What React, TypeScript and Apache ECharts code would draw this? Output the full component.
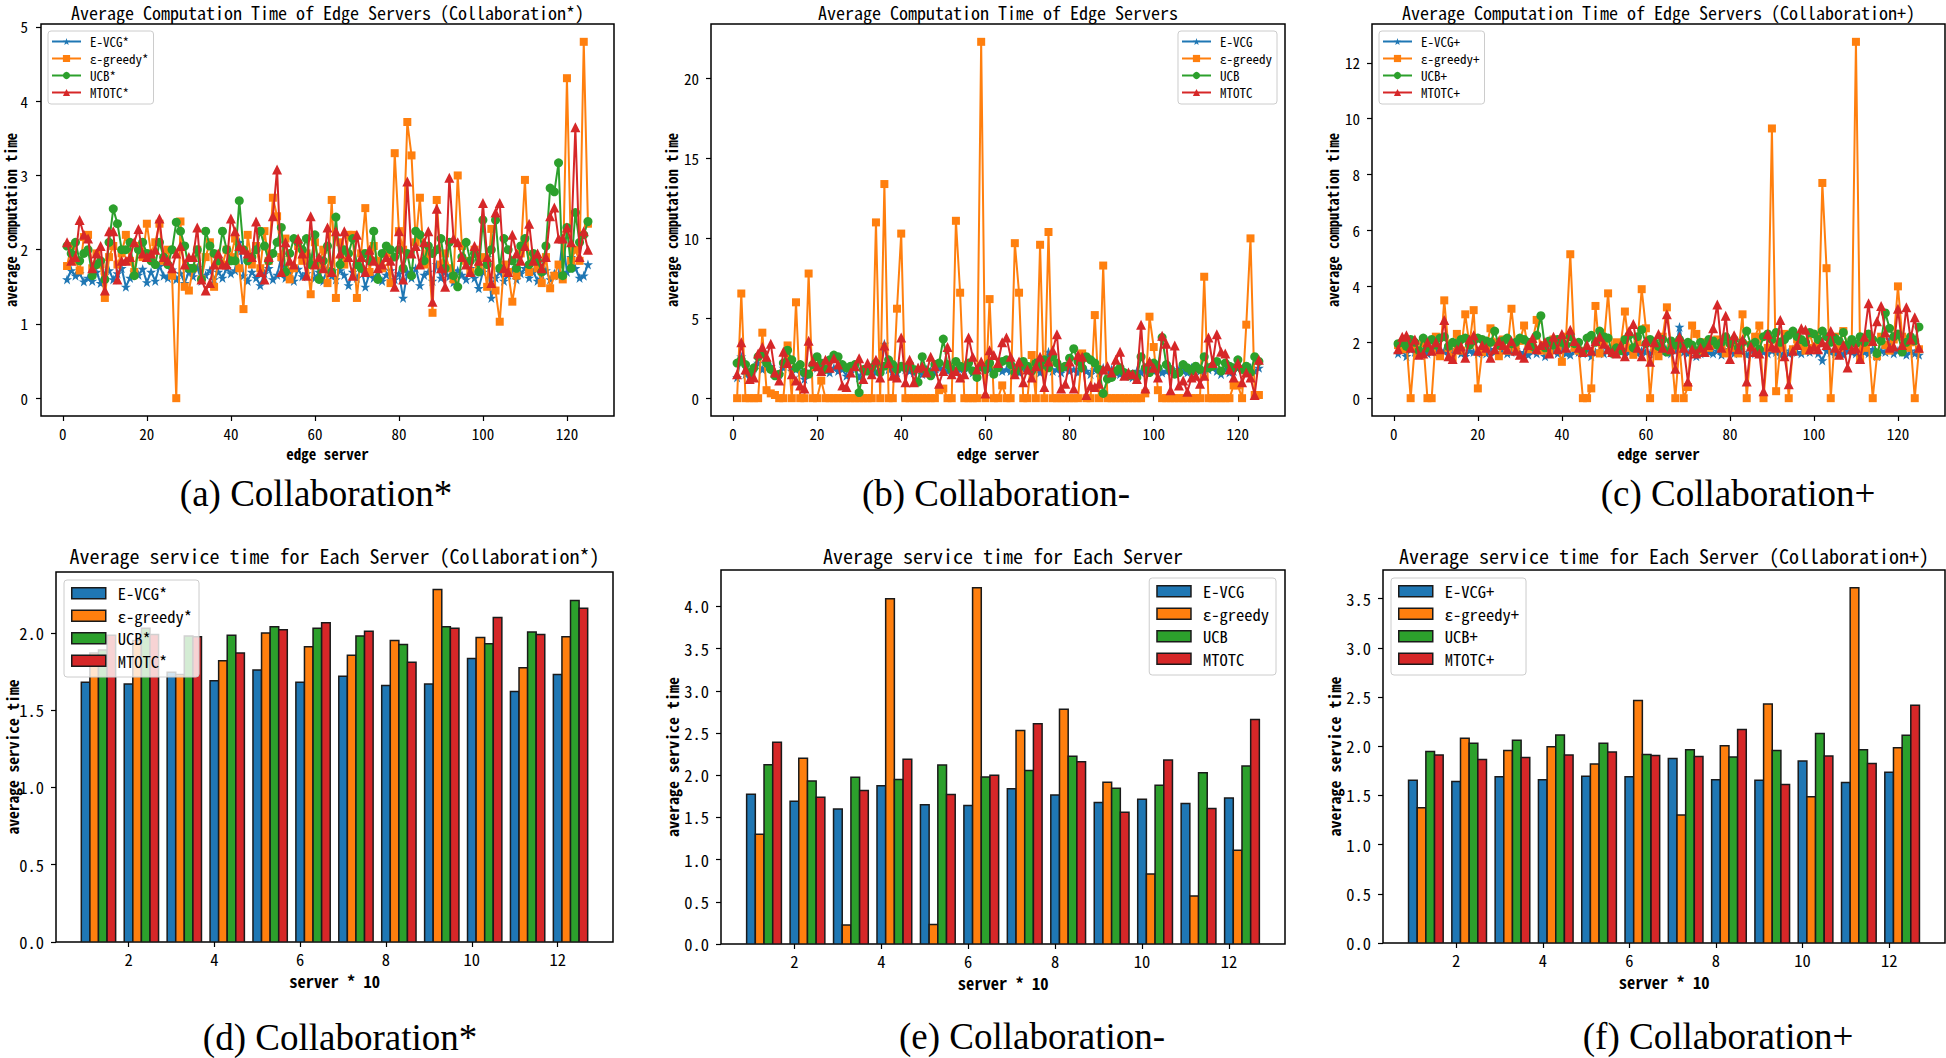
import React, { useEffect, useRef } from "react";
import * as echarts from "echarts";

// ---------- DATA ----------
const COLORS = ["#1f77b4", "#ff7f0e", "#2ca02c", "#d62728"];

const X_TICKS_LINE = [0, 20, 40, 60, 80, 100, 120];
const X_TICKS_BAR = [2, 4, 6, 8, 10, 12];
const BAR_GROUPS = [1, 2, 3, 4, 5, 6, 7, 8, 9, 10, 11, 12];

// (a) Collaboration*  (edge servers 1..125, ten per row)
const A_EVCG = [
  1.60,1.72,1.65,1.68,1.57,1.62,1.58,1.70,1.55,1.66,
  1.72,1.60,1.68,1.75,1.50,1.62,1.70,1.66,1.74,1.56,
  1.70,1.58,1.78,1.65,1.62,1.73,1.60,1.68,1.55,1.70,
  1.64,1.76,1.58,1.66,1.72,1.60,1.70,1.62,1.75,1.68,
  1.72,2.10,1.65,1.58,1.70,1.62,1.52,1.68,1.75,1.60,
  1.66,1.90,1.62,1.70,1.58,1.74,1.64,1.68,1.90,1.62,
  1.70,1.58,1.75,1.65,1.60,1.72,1.66,1.52,1.70,1.62,
  1.75,1.50,1.68,1.62,1.70,1.58,1.66,1.72,1.60,1.68,
  1.35,1.70,1.62,1.75,1.52,1.66,1.70,1.58,1.80,1.62,
  1.70,1.64,1.56,1.72,1.66,1.60,1.75,1.62,1.48,1.70,
  1.90,1.35,1.62,1.70,1.58,1.66,1.72,1.60,1.68,1.75,
  1.62,1.70,1.58,1.66,1.72,1.60,1.68,1.65,2.15,1.70,
  1.90,1.75,1.62,1.65,1.80,
];
const A_GREEDY = [
  1.78,2.05,1.85,1.72,2.17,2.20,1.75,1.95,1.80,1.35,
  1.90,2.05,1.80,1.95,2.20,1.85,1.70,2.05,1.90,2.35,
  1.95,2.10,2.35,1.85,2.00,1.65,0.00,2.38,1.50,1.45,
  1.75,2.00,1.60,1.90,2.10,1.50,1.85,1.80,2.00,1.90,
  2.15,1.75,1.20,2.20,1.80,2.05,1.75,2.25,1.85,2.70,
  2.45,1.90,2.15,1.60,1.75,2.05,1.85,1.95,1.40,2.10,
  1.80,2.00,1.55,2.67,1.35,2.10,1.80,2.20,2.20,1.35,
  1.95,2.56,1.70,2.05,1.85,1.75,1.95,1.55,3.30,2.25,
  2.00,3.72,3.27,2.10,2.70,1.80,1.95,1.15,2.67,1.80,
  1.95,1.75,1.60,3.00,2.05,1.85,1.70,2.00,1.75,1.90,
  1.50,2.28,1.45,1.03,1.80,1.70,1.30,1.65,1.95,2.94,
  1.70,1.85,1.75,1.55,1.90,1.48,1.65,1.80,1.60,4.31,
  1.85,2.00,1.85,4.80,2.35,
];
const A_UCB = [
  2.05,1.95,2.10,1.85,1.95,2.00,1.65,1.80,1.85,1.60,
  2.10,2.55,2.35,2.00,2.00,2.10,1.65,2.00,2.10,1.95,
  1.85,1.80,2.10,1.90,1.80,2.00,2.37,2.25,2.05,1.75,
  1.75,2.00,1.60,2.25,2.05,1.95,1.85,2.25,2.00,1.85,
  1.85,2.66,2.00,1.85,1.90,2.00,2.25,2.05,1.85,1.95,
  2.10,2.30,1.70,1.95,2.15,2.10,2.00,2.15,1.80,2.20,
  1.60,1.85,2.05,1.70,2.44,1.80,2.00,1.95,2.15,1.80,
  1.75,1.95,1.85,2.25,1.60,1.95,2.05,2.00,1.90,2.00,
  1.75,1.95,1.65,2.25,2.20,1.85,2.05,1.95,2.00,2.15,
  1.75,2.10,1.65,1.50,1.90,2.10,1.85,1.95,1.70,2.40,
  1.80,2.00,2.40,1.75,2.15,2.00,1.85,1.75,2.05,2.15,
  1.80,1.95,1.85,1.70,2.05,2.83,2.78,3.17,1.65,2.30,
  1.75,2.50,2.10,2.20,2.38,
];
const A_MTOTC = [
  2.10,1.85,1.90,2.40,2.20,2.15,1.75,1.95,2.05,1.45,
  2.25,2.25,1.60,1.85,1.85,1.90,2.10,2.28,1.95,1.90,
  1.95,2.00,2.42,1.90,1.85,1.75,1.95,2.05,1.80,1.90,
  1.90,2.30,1.60,1.45,1.55,1.80,1.95,1.80,1.80,2.42,
  2.25,2.05,2.00,1.95,1.90,2.38,1.70,1.60,1.90,2.45,
  3.08,1.70,2.10,1.85,1.80,2.15,1.95,1.65,2.45,1.80,
  1.90,1.75,2.30,1.70,2.25,1.95,2.25,1.90,1.65,2.20,
  1.90,1.70,2.00,1.85,1.75,1.80,1.90,1.85,1.50,2.25,
  1.60,2.92,1.95,2.05,1.80,2.10,2.25,1.30,2.55,1.75,
  1.50,2.97,2.15,2.10,1.90,1.80,1.70,2.05,1.85,2.63,
  1.90,1.55,2.50,2.63,1.75,1.70,2.20,1.95,1.85,2.05,
  2.35,1.85,1.95,1.75,1.90,2.45,2.57,2.15,2.15,2.30,
  2.10,3.65,1.90,2.25,2.00,
];

// (b) Collaboration-
const B_EVCG = [
  1.3,2.6,1.5,1.4,1.9,2.2,1.8,1.9,2.0,1.6,
  1.5,1.9,2.1,1.7,1.8,1.6,1.2,1.5,2.0,1.9,
  1.7,1.8,1.6,1.9,1.7,1.8,1.4,1.6,1.9,1.3,
  1.8,1.7,1.9,1.6,2.0,3.4,1.8,1.7,1.6,1.9,
  1.8,1.7,1.6,1.9,1.5,1.8,1.7,1.6,1.9,1.8,
  1.7,1.9,1.6,1.8,1.7,1.9,1.6,1.8,1.9,1.7,
  1.8,1.6,1.9,1.7,1.8,1.7,1.9,1.6,1.8,1.7,
  1.8,1.9,1.6,1.8,2.9,1.7,1.8,1.6,1.9,1.7,
  1.8,1.6,1.9,1.7,1.5,1.8,1.6,1.9,1.7,1.8,
  1.6,1.5,1.4,1.6,1.3,1.7,1.6,1.8,1.9,1.7,
  1.8,1.6,1.7,1.9,1.6,1.8,1.7,1.6,1.9,1.8,
  1.7,1.6,1.8,1.9,1.7,1.5,1.8,1.6,1.7,1.9,
  1.8,1.7,1.9,1.7,1.9,
];
const B_GREEDY = [
  0,6.55,0,0,0,0,4.1,0.5,0.3,0.2,
  0,0,3.3,0,6.0,0,0,7.8,0,0,
  1.1,0,0,0,0,0,0,0,0,0,
  0,0,0,11.0,0,13.4,0,0,5.6,10.3,
  0,0,0,0,0,0,0,0,0.5,0.6,
  0,0,11.1,6.6,0,0,0,0,22.3,0,
  6.2,0,0,0.8,0,0,9.7,6.6,0,0,
  2.7,0,9.6,0,10.4,0,0,0,0,0,
  0,0,2.8,0,0,5.2,0,8.3,0,0,
  0,0,0,0,0,0,0,0.3,5.1,3.2,
  0.5,0,0,0,0,0,0,0,0,0,
  0,7.6,0,0,0,0,0,0,0.8,0.8,
  0,4.6,10.0,0.2,0.2,
];
const B_UCB = [
  2.2,2.4,2.1,1.6,1.9,2.6,2.8,2.2,1.8,1.4,
  1.5,2.2,3.0,2.4,1.9,2.1,1.6,1.5,2.1,2.6,
  2.2,1.8,2.4,2.7,2.6,2.1,1.9,2.0,2.1,0.35,
  1.8,1.7,1.9,2.2,1.6,2.0,2.4,2.1,1.8,2.0,
  1.9,2.1,1.8,1.0,2.6,1.7,1.4,2.1,2.2,3.7,
  2.1,1.8,2.3,2.0,1.9,2.2,1.7,1.3,2.0,1.8,
  2.2,1.5,1.9,2.3,2.4,2.1,1.6,1.9,2.3,2.0,
  1.7,2.2,2.0,2.4,1.9,2.6,2.2,1.9,2.0,2.5,
  3.1,2.3,1.9,2.6,2.4,2.2,1.8,0.3,1.2,1.3,
  1.7,1.9,1.6,1.4,1.5,1.3,2.6,1.9,1.6,2.2,
  1.9,3.8,2.1,1.8,1.5,1.6,2.1,1.9,1.7,2.0,
  1.8,2.6,1.9,2.0,2.3,1.7,2.2,2.0,1.9,2.4,
  1.8,2.0,1.6,2.6,2.3,
];
const B_MTOTC = [
  1.5,3.5,1.8,1.2,1.3,2.8,3.2,2.6,3.4,1.6,
  1.1,2.9,2.2,1.5,1.1,0.8,0.6,3.6,2.3,2.0,
  1.7,2.4,1.9,2.5,2.1,0.8,0.7,1.6,2.0,2.5,
  1.2,2.2,1.5,2.4,1.3,3.3,2.2,1.4,1.3,3.8,
  1.0,2.4,1.0,1.9,2.0,1.6,2.6,2.0,0.9,1.7,
  3.2,1.5,1.7,1.3,1.5,3.8,2.6,1.8,2.3,0.3,
  3.0,2.7,2.2,3.5,3.8,2.6,1.5,2.3,1.0,1.8,
  1.3,2.0,2.6,0.7,2.3,3.0,4.0,0.6,0.9,2.3,
  0.6,2.7,2.6,0.2,0.8,0.7,0.9,1.8,2.0,1.6,
  2.4,2.9,1.4,1.6,1.5,1.2,4.6,0.6,2.3,1.9,
  1.3,3.9,3.4,0.5,3.3,0.8,1.1,0.4,1.3,1.4,
  0.9,1.4,3.8,2.2,4.0,2.9,2.8,1.8,1.3,2.2,
  1.0,1.6,1.3,0.2,2.4,
];

// (c) Collaboration+
const C_EVCG = [
  1.60,1.70,1.50,1.75,1.65,1.55,1.70,1.60,1.65,1.75,
  1.60,1.70,1.55,1.65,1.75,1.60,1.50,1.70,1.65,1.60,
  1.70,1.60,1.75,1.65,1.55,1.70,1.60,1.65,1.75,1.60,
  1.65,1.55,1.70,1.60,1.75,1.50,1.65,1.70,1.60,1.75,
  1.60,1.55,1.70,1.65,1.60,1.75,1.50,1.65,1.70,1.60,
  1.75,1.65,1.60,1.70,1.55,1.65,1.75,1.60,1.70,1.65,
  1.60,1.70,1.55,1.65,1.75,1.60,1.70,2.55,1.65,1.60,
  1.70,1.50,1.60,1.75,1.65,1.60,1.70,1.55,1.65,1.75,
  1.60,1.70,1.65,1.55,1.70,1.60,1.75,1.65,1.60,1.70,
  1.65,1.55,1.70,1.60,1.75,1.65,1.60,1.70,1.65,1.75,
  1.60,1.35,1.70,1.65,1.60,1.75,1.55,1.70,1.65,1.60,
  1.70,1.65,1.60,1.75,1.50,1.70,1.65,2.10,1.60,1.70,
  1.65,1.55,1.70,1.60,1.55,
];
const C_GREEDY = [
  1.90,1.75,2.00,0.00,1.85,1.60,2.00,0.00,0.00,2.20,
  1.50,3.50,1.80,1.45,2.30,1.70,3.00,1.90,3.15,0.35,
  1.65,1.80,2.50,2.00,1.50,2.10,1.70,3.20,1.80,2.05,
  2.60,1.75,2.00,2.80,1.70,1.90,1.60,2.10,1.85,1.30,
  2.20,5.15,1.80,1.70,0.00,0.00,0.35,3.30,1.60,2.00,
  3.75,1.70,2.00,1.90,3.10,1.80,1.55,2.00,3.90,2.50,
  0.00,1.80,1.50,2.20,3.25,1.80,0.00,1.90,0.00,0.40,
  2.60,2.30,1.70,2.00,1.80,1.90,2.10,1.80,1.60,2.00,
  1.80,1.60,3.00,0.00,1.90,2.20,2.60,0.00,1.80,9.65,
  0.25,1.80,2.30,0.00,1.75,2.10,1.90,1.70,2.30,1.80,
  2.00,7.70,4.65,0.00,2.20,1.80,2.40,1.90,2.00,12.75,
  1.40,1.80,2.00,0.00,1.50,2.20,1.90,1.70,2.10,4.00,
  2.20,1.80,2.00,0.00,1.75,
];
const C_UCB = [
  1.95,2.00,1.85,2.10,2.00,1.70,2.15,1.80,2.10,1.90,
  2.15,2.20,1.85,2.00,1.95,2.10,2.15,1.90,2.05,2.15,
  2.10,2.05,2.00,2.40,1.90,2.05,2.15,1.95,2.00,2.15,
  2.10,2.00,1.85,2.25,2.95,1.80,2.05,1.90,2.10,2.00,
  1.90,2.20,1.95,2.00,1.65,2.15,2.25,2.00,2.40,2.20,
  2.15,1.60,1.80,1.70,2.10,2.25,1.80,2.20,2.45,1.95,
  2.10,2.00,1.85,2.10,1.65,2.05,1.90,2.10,1.85,2.00,
  1.90,1.70,2.00,1.85,2.10,2.05,1.90,2.00,2.20,1.95,
  2.10,1.80,2.00,2.40,1.90,2.00,1.75,2.20,2.30,2.10,
  2.35,2.00,2.10,2.25,2.40,2.20,2.10,2.00,2.35,2.30,
  2.10,2.40,2.20,2.00,2.15,2.05,2.35,1.90,2.10,1.95,
  2.20,2.00,2.30,2.10,1.60,2.05,3.05,2.50,2.20,2.30,
  1.65,2.00,2.20,2.05,2.55,
];
const C_MTOTC = [
  1.75,2.20,2.25,1.80,2.10,1.55,1.60,2.00,1.70,2.00,
  1.75,2.80,1.50,1.40,1.75,1.85,1.45,2.10,2.25,1.70,
  1.90,1.80,1.45,1.75,2.05,1.90,1.75,2.05,1.70,1.55,
  1.45,1.90,2.15,1.75,1.90,2.00,1.60,2.20,1.75,2.30,
  1.80,2.45,2.05,1.80,1.65,1.90,1.70,2.05,2.20,1.95,
  1.75,1.65,1.60,1.90,1.50,2.40,2.65,1.80,1.50,2.05,
  1.30,2.00,2.30,1.80,3.00,1.75,1.05,2.20,1.80,0.60,
  1.75,1.60,1.80,1.65,1.90,2.50,3.35,1.80,2.95,1.40,
  2.25,1.75,2.10,0.60,1.85,1.65,1.60,0.25,2.30,1.85,
  1.80,2.80,1.50,0.50,1.70,1.90,2.50,2.45,1.75,1.85,
  1.75,2.00,1.90,2.40,1.80,1.55,1.90,1.10,1.75,1.80,
  1.40,2.20,3.40,2.05,2.75,3.30,2.35,1.80,1.85,3.20,
  1.90,3.25,2.10,2.90,1.80,
];

// (d) Collaboration* bars
const D_EVCG = [1.68, 1.67, 1.745, 1.69, 1.76, 1.68, 1.72, 1.66, 1.67, 1.835, 1.62, 1.73];
const D_GREEDY = [1.87, 1.95, 1.73, 1.82, 2.0, 1.91, 1.855, 1.95, 2.28, 1.97, 1.775, 1.975];
const D_UCB = [1.89, 2.03, 1.98, 1.985, 2.04, 2.03, 1.98, 1.925, 2.04, 1.93, 2.005, 2.21];
const D_MTOTC = [1.985, 1.99, 1.975, 1.87, 2.02, 2.065, 2.01, 1.81, 2.03, 2.1, 1.99, 2.16];

// (e) Collaboration- bars
const E_EVCG = [1.775, 1.69, 1.6, 1.875, 1.65, 1.64, 1.84, 1.765, 1.675, 1.715, 1.665, 1.73];
const E_GREEDY = [1.3, 2.2, 0.225, 4.09, 0.23, 4.22, 2.53, 2.78, 1.915, 0.83, 0.57, 1.11];
const E_UCB = [2.125, 1.93, 1.975, 1.95, 2.12, 1.98, 2.055, 2.225, 1.845, 1.88, 2.03, 2.11];
const E_MTOTC = [2.39, 1.74, 1.82, 2.19, 1.77, 2.0, 2.61, 2.16, 1.56, 2.18, 1.605, 2.66];

// (f) Collaboration+ bars
const F_EVCG = [1.655, 1.64, 1.69, 1.66, 1.695, 1.69, 1.875, 1.66, 1.655, 1.85, 1.63, 1.735];
const F_GREEDY = [1.375, 2.08, 1.955, 1.995, 1.82, 2.465, 1.3, 2.005, 2.43, 1.485, 3.61, 1.985];
const F_UCB = [1.945, 2.03, 2.06, 2.115, 2.03, 1.915, 1.965, 1.89, 1.955, 2.13, 1.965, 2.11];
const F_MTOTC = [1.91, 1.865, 1.885, 1.91, 1.94, 1.905, 1.895, 2.17, 1.61, 1.9, 1.825, 2.415];

// ---------- STYLE ----------
const MONO = '"Noto Sans Mono CJK SC", "Noto Sans CJK SC", "DejaVu Sans Mono", monospace';
const SERIF = '"Liberation Serif", "DejaVu Serif", serif';
const STAR =
  "path://M50,0 L61.8,35.4 L99,35.4 L69,57.3 L80.4,92.7 L50,70.8 L19.6,92.7 L31,57.3 L1,35.4 L38.2,35.4 Z";
const SYMBOLS = [STAR, "rect", "circle", "triangle"];
const SYMBOL_SIZES = [10, 8, 9, 10];

type Box = { left: number; top: number; width: number; height: number };

function makeGrid(b: Box) {
  return {
    left: b.left,
    top: b.top,
    width: b.width,
    height: b.height,
    show: true,
    borderColor: "#000",
    borderWidth: 1.5,
    backgroundColor: "transparent",
    containLabel: false,
    outerBoundsMode: "none",
  };
}

function makeXAxis(gi: number, min: number, max: number, ticks: number[], name: string, fs: number, margin: number, nameGap: number) {
  return {
    type: "value",
    gridIndex: gi,
    min,
    max,
    axisLine: { show: false, onZero: false },
    axisTick: { show: true, length: 5, lineStyle: { color: "#000", width: 1.2 }, customValues: ticks },
    axisLabel: { customValues: ticks, formatter: (v: number) => String(v), fontSize: fs, fontFamily: MONO, color: "#000", margin },
    splitLine: { show: false },
    name,
    nameLocation: "middle",
    nameGap,
    nameMoveOverlap: false,
    nameTextStyle: { fontSize: fs, fontFamily: MONO, color: "#000", fontWeight: "bold" },
  };
}

function makeYAxis(gi: number, min: number, max: number, ticks: number[], fmt: (v: number) => string, name: string, fs: number, nfs: number, margin: number, nameGap: number) {
  return {
    type: "value",
    gridIndex: gi,
    min,
    max,
    axisLine: { show: false, onZero: false },
    axisTick: { show: true, length: 5, lineStyle: { color: "#000", width: 1.2 }, customValues: ticks },
    axisLabel: { customValues: ticks, formatter: fmt, fontSize: fs, fontFamily: MONO, color: "#000", margin },
    splitLine: { show: false },
    name,
    nameLocation: "middle",
    nameRotate: 90,
    nameGap,
    nameMoveOverlap: false,
    nameTextStyle: { fontSize: nfs, fontFamily: MONO, color: "#000", fontWeight: "bold" },
  };
}

function lineSeries(gi: number, names: string[], arrs: number[][]) {
  return arrs.map((arr, k) => ({
    type: "line",
    name: names[k],
    xAxisIndex: gi,
    yAxisIndex: gi,
    data: arr.map((v, i) => [i + 1, v]),
    symbol: SYMBOLS[k],
    symbolSize: SYMBOL_SIZES[k],
    showSymbol: true,
    lineStyle: { width: 2, color: COLORS[k] },
    itemStyle: { color: COLORS[k] },
    emphasis: { disabled: true },
    clip: true,
    z: 2 + k,
  }));
}

function barSeries(gi: number, names: string[], arrs: number[][]) {
  return arrs.map((arr, k) => ({
    type: "custom",
    name: names[k] + "#bar",
    xAxisIndex: gi,
    yAxisIndex: gi,
    data: arr.map((v, i) => [BAR_GROUPS[i] + 0.2 * k, v]),
    encode: { x: 0, y: 1 },
    itemStyle: { color: COLORS[k], borderColor: "#000", borderWidth: 1.5 },
    clip: true,
    renderItem: (_p: any, api: any) => {
      const x = api.value(0);
      const y = api.value(1);
      const tl = api.coord([x - 0.1, y]);
      const br = api.coord([x + 0.1, 0]);
      return {
        type: "rect",
        shape: { x: tl[0], y: tl[1], width: br[0] - tl[0], height: br[1] - tl[1] },
        style: { fill: COLORS[k], stroke: "#1a1a1a", lineWidth: 1.5 },
      };
    },
  }));
}

function lineLegend(names: string[], pos: any) {
  return {
    ...pos,
    orient: "vertical",
    data: names.map((n) => ({ name: n })),
    itemWidth: 29,
    itemHeight: 9,
    itemGap: 4,
    padding: [4, 5, 5, 3],
    borderColor: "#cccccc",
    borderWidth: 1,
    borderRadius: 3,
    backgroundColor: "rgba(255,255,255,0.8)",
    selectedMode: false,
    textStyle: { fontSize: 13, lineHeight: 13, fontFamily: MONO, color: "#000", padding: [0, 0, 0, 4] },
  };
}

function barLegend(names: string[], pos: any) {
  return {
    ...pos,
    orient: "vertical",
    data: names.map((n, k) => ({
      name: n + "#bar",
      icon: "rect",
      itemStyle: { color: COLORS[k], borderColor: "#1a1a1a", borderWidth: 1.5 },
    })),
    formatter: (n: string) => n.replace("#bar", ""),
    itemWidth: 34,
    itemHeight: 11,
    itemGap: 6,
    padding: [5, 7, 8, 7],
    borderColor: "#cccccc",
    borderWidth: 1,
    borderRadius: 3,
    backgroundColor: "rgba(255,255,255,0.8)",
    selectedMode: false,
    textStyle: { fontSize: 16.5, lineHeight: 16, fontFamily: MONO, color: "#000", padding: [0, 0, 0, 7] },
  };
}

const NAMES_STAR = ["E-VCG*", "ε-greedy*", "UCB*", "MTOTC*"];
const NAMES_MINUS = ["E-VCG", "ε-greedy", "UCB", "MTOTC"];
const NAMES_PLUS = ["E-VCG+", "ε-greedy+", "UCB+", "MTOTC+"];

const GRIDS: Box[] = [
  { left: 41, top: 24, width: 573, height: 392 },
  { left: 711, top: 24, width: 574, height: 392 },
  { left: 1372, top: 24, width: 573, height: 392 },
  { left: 56, top: 572, width: 557, height: 370 },
  { left: 721, top: 570, width: 564, height: 374 },
  { left: 1383, top: 570, width: 562, height: 373 },
];

const TITLES = [
  "Average Computation Time of Edge Servers (Collaboration*)",
  "Average Computation Time of Edge Servers",
  "Average Computation Time of Edge Servers (Collaboration+)",
  "Average service time for Each Server (Collaboration*)",
  "Average service time for Each Server",
  "Average service time for Each Server (Collaboration+)",
];
const CAPTIONS = [
  "(a) Collaboration*",
  "(b) Collaboration-",
  "(c) Collaboration+",
  "(d) Collaboration*",
  "(e) Collaboration-",
  "(f) Collaboration+",
];

function buildOption() {
  const intFmt = (v: number) => String(v);
  const oneDec = (v: number) => v.toFixed(1);
  const titles = TITLES.map((t, i) => ({
    text: t,
    left: GRIDS[i].left + GRIDS[i].width / 2,
    top: i < 3 ? 3 : 545,
    textAlign: "center",
    padding: 0,
    textStyle: { fontSize: i < 3 ? 18 : 20, lineHeight: i < 3 ? 18 : 20, fontWeight: "normal", fontFamily: MONO, color: "#000" },
  }));
  const capX = [316, 996, 1738, 340, 1032, 1718];
  const capY = [493, 493, 493, 1037, 1036, 1036];
  const graphic = CAPTIONS.map((c, i) => ({
    type: "text",
    x: capX[i],
    y: capY[i],
    style: {
      text: c,
      fontSize: 37,
      fontFamily: SERIF,
      fill: "#000",
      align: "center",
      verticalAlign: "middle",
    },
  }));

  const xAxis = [
    makeXAxis(0, -5.2, 131.2, X_TICKS_LINE, "edge server", 15, 10, 30),
    makeXAxis(1, -5.2, 131.2, X_TICKS_LINE, "edge server", 15, 10, 30),
    makeXAxis(2, -5.2, 131.2, X_TICKS_LINE, "edge server", 15, 10, 30),
    makeXAxis(3, 0.31, 13.29, X_TICKS_BAR, "server * 10", 16.5, 9, 31),
    makeXAxis(4, 0.31, 13.29, X_TICKS_BAR, "server * 10", 16.5, 9, 31),
    makeXAxis(5, 0.31, 13.29, X_TICKS_BAR, "server * 10", 16.5, 9, 31),
  ];
  const yAxis = [
    makeYAxis(0, -0.24, 5.04, [0, 1, 2, 3, 4, 5], intFmt, "average computation time", 15, 14.5, 13, 23),
    makeYAxis(1, -1.115, 23.415, [0, 5, 10, 15, 20], intFmt, "average computation time", 15, 14.5, 12, 32),
    makeYAxis(2, -0.6375, 13.3875, [0, 2, 4, 6, 8, 10, 12], intFmt, "average computation time", 15, 14.5, 12, 32),
    makeYAxis(3, 0, 2.394, [0, 0.5, 1, 1.5, 2], oneDec, "average service time", 16.5, 15.5, 12, 36),
    makeYAxis(4, 0, 4.431, [0, 0.5, 1, 1.5, 2, 2.5, 3, 3.5, 4], oneDec, "average service time", 16.5, 16, 12, 41),
    makeYAxis(5, 0, 3.7905, [0, 0.5, 1, 1.5, 2, 2.5, 3, 3.5], oneDec, "average service time", 16.5, 16, 12, 41),
  ];

  const series = [
    ...lineSeries(0, NAMES_STAR, [A_EVCG, A_GREEDY, A_UCB, A_MTOTC]),
    ...lineSeries(1, NAMES_MINUS, [B_EVCG, B_GREEDY, B_UCB, B_MTOTC]),
    ...lineSeries(2, NAMES_PLUS, [C_EVCG, C_GREEDY, C_UCB, C_MTOTC]),
    ...barSeries(3, NAMES_STAR, [D_EVCG, D_GREEDY, D_UCB, D_MTOTC]),
    ...barSeries(4, NAMES_MINUS, [E_EVCG, E_GREEDY, E_UCB, E_MTOTC]),
    ...barSeries(5, NAMES_PLUS, [F_EVCG, F_GREEDY, F_UCB, F_MTOTC]),
  ];

  const legend = [
    lineLegend(NAMES_STAR, { left: 48, top: 31 }),
    lineLegend(NAMES_MINUS, { right: 669, top: 31 }),
    lineLegend(NAMES_PLUS, { left: 1379, top: 31 }),
    barLegend(NAMES_STAR, { left: 64, top: 580 }),
    barLegend(NAMES_MINUS, { right: 670, top: 578 }),
    barLegend(NAMES_PLUS, { left: 1391, top: 578 }),
  ];

  return {
    animation: false,
    backgroundColor: "#fff",
    title: titles,
    grid: GRIDS.map(makeGrid),
    xAxis,
    yAxis,
    legend,
    series,
    graphic,
    tooltip: { show: false },
  };
}

export default function App() {
  const ref = useRef<HTMLDivElement>(null);
  useEffect(() => {
    document.body.style.margin = "0";
    if (!ref.current) return;
    const chart = echarts.init(ref.current, null, { renderer: "svg" });
    chart.setOption(buildOption() as any);
    return () => chart.dispose();
  }, []);
  return <div ref={ref} style={{ width: 1946, height: 1058 }} />;
}
